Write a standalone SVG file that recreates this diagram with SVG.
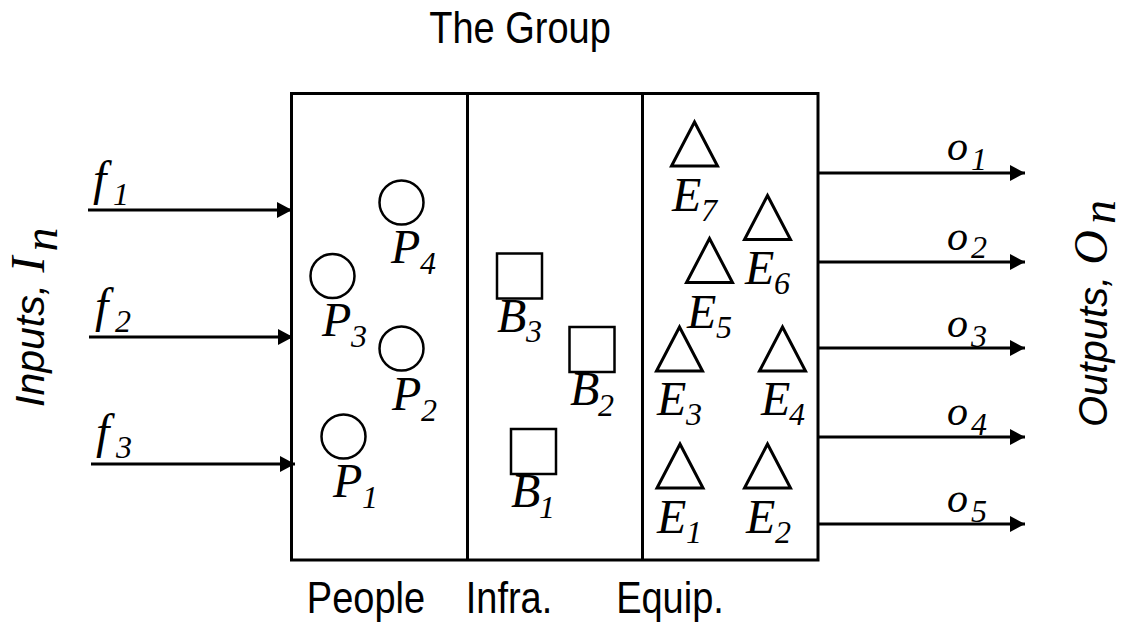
<svg xmlns="http://www.w3.org/2000/svg" xmlns:xlink="http://www.w3.org/1999/xlink" width="1128" height="625" viewBox="0 0 1128 625">
  <style>
    .sans { font-family: "Liberation Sans", Arial, sans-serif; fill: #000; }
    .m { font-family: "Liberation Serif", "Times New Roman", serif; font-style: italic; font-size: 48px; fill: #000; }
    .o { font-size: 42px; }
    .s { font-size: 32px; }
    .box { fill: none; stroke: #000; stroke-width: 3; }
    .shape { fill: #fff; stroke: #000; stroke-width: 2.5; }
    .tri { fill: #fff; stroke: #000; stroke-width: 3; stroke-linejoin: miter; }
    .arrow { stroke: #000; stroke-width: 3; fill: none; marker-end: url(#ah); }
  </style>
  <defs>
    <marker id="ah" markerUnits="userSpaceOnUse" markerWidth="16" markerHeight="16" refX="15" refY="8" orient="auto">
      <path d="M0,0 L15,8 L0,16 Z" fill="#000"/>
    </marker>
    <path id="tri" d="M0,0 L23,44 L-23,44 Z"/>
  </defs>
  <rect width="1128" height="625" fill="#fff"/>

  <g id="title">
    <text class="sans" font-size="38" text-anchor="middle" transform="translate(520,43) scale(1,1.15)">The Group</text>
  </g>

  <g id="group-box">
    <rect class="box" x="291.5" y="93.5" width="526.5" height="466.5"/>
    <line class="box" x1="467.5" y1="93.5" x2="467.5" y2="560"/>
    <line class="box" x1="642.5" y1="93.5" x2="642.5" y2="560"/>
  </g>

  <g id="column-labels">
    <text class="sans" font-size="38" text-anchor="middle" transform="translate(366,613) scale(1,1.15)">People</text>
    <text class="sans" font-size="38" text-anchor="middle" transform="translate(509,613) scale(1,1.15)">Infra.</text>
    <text class="sans" font-size="38" text-anchor="middle" transform="translate(670,613) scale(1,1.15)">Equip.</text>
  </g>

  <g id="inputs-label">
    <text transform="translate(44,407) rotate(-90)"><tspan class="sans" font-style="italic" font-size="41">Inputs, </tspan><tspan class="m" font-size="44">I</tspan><tspan class="m" font-size="27" dx="5" dy="13">n</tspan></text>
  </g>
  <g id="outputs-label">
    <text transform="translate(1107,427) rotate(-90)"><tspan class="sans" font-style="italic" font-size="40">Outputs, </tspan><tspan class="m" font-size="46">O</tspan><tspan class="m" font-size="25" dx="6" dy="8">n</tspan></text>
  </g>

  <g id="connectors">
    <line class="arrow" x1="88" y1="210" x2="292" y2="210"/>
    <line class="arrow" x1="89" y1="337" x2="293" y2="337"/>
    <line class="arrow" x1="91" y1="464" x2="295" y2="464"/>
    <line class="arrow" x1="818" y1="173" x2="1025" y2="173"/>
    <line class="arrow" x1="818" y1="262" x2="1025" y2="262"/>
    <line class="arrow" x1="818" y1="348" x2="1025" y2="348"/>
    <line class="arrow" x1="818" y1="437" x2="1025" y2="437"/>
    <line class="arrow" x1="818" y1="524" x2="1025" y2="524"/>
  </g>

  <g id="connector-labels">
    <text class="m" x="93" y="195">f<tspan class="s" x="113" y="205">1</tspan></text>
    <text class="m" x="95" y="322">f<tspan class="s" x="115" y="332">2</tspan></text>
    <text class="m" x="96" y="448">f<tspan class="s" x="116" y="458">3</tspan></text>
    <text class="m o" x="947" y="160">o<tspan class="s" x="971" y="170">1</tspan></text>
    <text class="m o" x="947" y="250">o<tspan class="s" x="971" y="258">2</tspan></text>
    <text class="m o" x="947" y="337">o<tspan class="s" x="971" y="347">3</tspan></text>
    <text class="m o" x="947" y="425">o<tspan class="s" x="971" y="435">4</tspan></text>
    <text class="m o" x="947" y="512">o<tspan class="s" x="971" y="522">5</tspan></text>
  </g>

  <g id="P4"><circle class="shape" cx="401.5" cy="202.5" r="22"/><text class="m" x="391" y="263">P<tspan class="s" x="420" y="274">4</tspan></text></g>
  <g id="P3"><circle class="shape" cx="332.5" cy="276" r="22"/><text class="m" x="322" y="336">P<tspan class="s" x="351" y="347">3</tspan></text></g>
  <g id="P2"><circle class="shape" cx="401.5" cy="348.5" r="22"/><text class="m" x="392" y="410">P<tspan class="s" x="421" y="421">2</tspan></text></g>
  <g id="P1"><circle class="shape" cx="343.5" cy="436.5" r="22"/><text class="m" x="333" y="497">P<tspan class="s" x="362" y="508">1</tspan></text></g>

  <g id="B3"><rect class="shape" x="497" y="253.5" width="45" height="45"/><text class="m" x="497" y="332">B<tspan class="s" x="526" y="342">3</tspan></text></g>
  <g id="B2"><rect class="shape" x="569.5" y="327" width="45" height="45"/><text class="m" x="570" y="405">B<tspan class="s" x="598" y="416">2</tspan></text></g>
  <g id="B1"><rect class="shape" x="511" y="429" width="45" height="45"/><text class="m" x="511" y="507">B<tspan class="s" x="539" y="518">1</tspan></text></g>

  <g id="E7"><use xlink:href="#tri" class="tri" x="694.5" y="122"/><text class="m" x="672" y="211">E<tspan class="s" x="701" y="221">7</tspan></text></g>
  <g id="E6"><use xlink:href="#tri" class="tri" x="767.5" y="195.5"/><text class="m" x="745" y="284">E<tspan class="s" x="774" y="294">6</tspan></text></g>
  <g id="E5"><use xlink:href="#tri" class="tri" x="709.5" y="238.5"/><text class="m" x="687" y="328">E<tspan class="s" x="716" y="338">5</tspan></text></g>
  <g id="E3"><use xlink:href="#tri" class="tri" x="679.5" y="327"/><text class="m" x="657" y="415">E<tspan class="s" x="686" y="425">3</tspan></text></g>
  <g id="E4"><use xlink:href="#tri" class="tri" x="782.5" y="327"/><text class="m" x="761" y="415">E<tspan class="s" x="789" y="425">4</tspan></text></g>
  <g id="E1"><use xlink:href="#tri" class="tri" x="680" y="444"/><text class="m" x="657" y="533">E<tspan class="s" x="686" y="543">1</tspan></text></g>
  <g id="E2"><use xlink:href="#tri" class="tri" x="767.5" y="444"/><text class="m" x="746" y="533">E<tspan class="s" x="775" y="543">2</tspan></text></g>
</svg>
